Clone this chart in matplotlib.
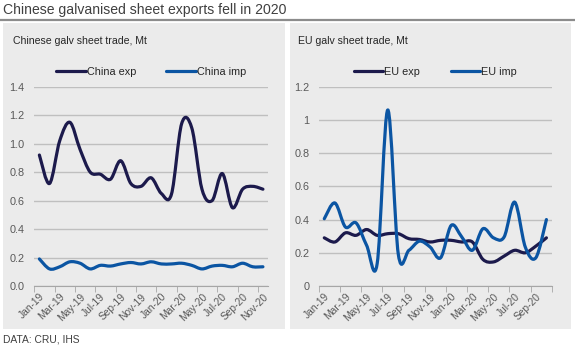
import numpy as np
import matplotlib.pyplot as plt
from matplotlib.path import Path
from matplotlib.patches import PathPatch, Rectangle
from matplotlib.lines import Line2D

plt.rcParams["font.family"] = ["Liberation Sans", "DejaVu Sans"]

# monthly trade, Mt
china_months = ["Jan-19", "Feb-19", "Mar-19", "Apr-19", "May-19", "Jun-19", "Jul-19", "Aug-19",
                "Sep-19", "Oct-19", "Nov-19", "Dec-19", "Jan-20", "Feb-20", "Mar-20", "Apr-20",
                "May-20", "Jun-20", "Jul-20", "Aug-20", "Sep-20", "Oct-20", "Nov-20"]
china_exp = [0.92, 0.72, 1.02, 1.15, 0.96, 0.80, 0.785, 0.75, 0.88, 0.72, 0.70, 0.76,
             0.65, 0.645, 1.14, 1.11, 0.68, 0.60, 0.79, 0.55, 0.68, 0.70, 0.68]
china_imp = [0.19, 0.12, 0.135, 0.17, 0.16, 0.12, 0.145, 0.14, 0.155, 0.165, 0.155, 0.17,
             0.155, 0.155, 0.16, 0.145, 0.12, 0.14, 0.145, 0.135, 0.16, 0.135, 0.135]

eu_months = china_months[:22]
eu_exp = [0.29, 0.265, 0.32, 0.305, 0.34, 0.305, 0.315, 0.315, 0.285, 0.28, 0.265,
          0.275, 0.275, 0.265, 0.265, 0.16, 0.145, 0.18, 0.215, 0.20, 0.24, 0.29]
eu_imp = [0.405, 0.50, 0.355, 0.38, 0.245, 0.135, 1.06, 0.19, 0.215, 0.27, 0.235,
          0.17, 0.365, 0.295, 0.215, 0.345, 0.29, 0.295, 0.505, 0.235, 0.17, 0.40]

navy = "#1c1a4c"
blue = "#0b55a3"
grid = "#bfbfbf"
txt = "#595959"


def smooth_path(x, y):
    # bezier segments through every point, like a spreadsheet "smoothed line"
    x = np.asarray(x, float)
    y = np.asarray(y, float)
    px = np.concatenate([[x[0]], x, [x[-1]]])
    py = np.concatenate([[y[0]], y, [y[-1]]])
    verts = [(x[0], y[0])]
    codes = [Path.MOVETO]
    for i in range(len(x) - 1):
        c1 = (x[i] + (px[i + 2] - px[i]) / 6, y[i] + (py[i + 2] - py[i]) / 6)
        c2 = (x[i + 1] - (px[i + 3] - px[i + 1]) / 6, y[i + 1] - (py[i + 3] - py[i + 1]) / 6)
        verts += [c1, c2, (x[i + 1], y[i + 1])]
        codes += [Path.CURVE4] * 3
    return Path(verts, codes)


def panel(ax, months, series, ymax, fmt, subtitle):
    n = len(months)
    x = np.arange(n)
    for name, vals, col in series:
        ax.add_patch(PathPatch(smooth_path(x, vals), fill=False, edgecolor=col,
                               lw=2.3, capstyle="round", joinstyle="round", zorder=3))
    ax.set_xlim(-0.5, n - 0.5)
    ax.set_ylim(0, ymax)
    ax.set_facecolor("none")
    yt = np.arange(0, ymax + 0.01, 0.2)
    ax.set_yticks(yt)
    ax.set_yticklabels([fmt(v) for v in yt])
    ax.yaxis.grid(True, color=grid, lw=1)
    ax.set_axisbelow(True)
    for s in ["top", "right", "left"]:
        ax.spines[s].set_visible(False)
    ax.spines["bottom"].set_color("#a6a6a6")
    ax.set_xticks(x[::2])
    ax.set_xticklabels(months[::2], rotation=45, ha="right", va="top",
                       rotation_mode="anchor")
    ax.set_xticks(np.arange(-0.5, n, 2), minor=True)
    ax.tick_params(axis="x", which="major", length=0, pad=4, labelsize=7.4, labelcolor=txt)
    ax.tick_params(axis="x", which="minor", length=4, color="#a6a6a6", direction="out")
    ax.tick_params(axis="y", length=0, pad=7, labelsize=7.8, labelcolor=txt)
    handles = [Line2D([], [], color=c, lw=2.3, solid_capstyle="round") for _, _, c in series]
    ax.legend(handles, [s[0] for s in series], loc="lower center", ncol=2,
              bbox_to_anchor=(0.5, 1.0), frameon=False, fontsize=7.8,
              handlelength=2.7, handletextpad=0.1, columnspacing=2.8,
              labelcolor="#262626")
    ax.text(-0.09, 1.23, subtitle, transform=ax.transAxes, fontsize=7.6,
            color="#262626", va="center")


fig = plt.figure(figsize=(5.75, 3.47), dpi=100)
W, H = 575, 347

# grey panels behind each chart
fig.patches.append(Rectangle((3 / W, 1 - 329 / H), 282 / W, 306 / H, transform=fig.transFigure,
                             facecolor="#ebebeb", edgecolor="none", zorder=-5))
fig.patches.append(Rectangle((290 / W, 1 - 329 / H), 281 / W, 306 / H, transform=fig.transFigure,
                             facecolor="#ebebeb", edgecolor="none", zorder=-5))
fig.lines.append(Line2D([0, 1], [1 - 20 / H, 1 - 20 / H], transform=fig.transFigure,
                        color="#8c8c8c", lw=1.6))

fig.text(3 / W, 1 - 10 / H, "Chinese galvanised sheet exports fell in 2020", fontsize=10.1,
         color="#404040", va="center")
fig.text(3 / W, 1 - 339 / H, "DATA: CRU, IHS", fontsize=7.4, color="#404040", va="center")

ax1 = fig.add_axes([34.3 / W, 1 - 286 / H, (268 - 34.3) / W, (286 - 86.7) / H])
panel(ax1, china_months, [("China exp", china_exp, navy), ("China imp", china_imp, blue)],
      1.4, lambda v: f"{v:.1f}", "Chinese galv sheet trade, Mt")

ax2 = fig.add_axes([319 / W, 1 - 286 / H, (551.7 - 319) / W, (286 - 86.7) / H])
panel(ax2, eu_months, [("EU exp", eu_exp, navy), ("EU imp", eu_imp, blue)],
      1.2, lambda v: f"{v:g}", "EU galv sheet trade, Mt")

fig.savefig("out.png", dpi=100)
